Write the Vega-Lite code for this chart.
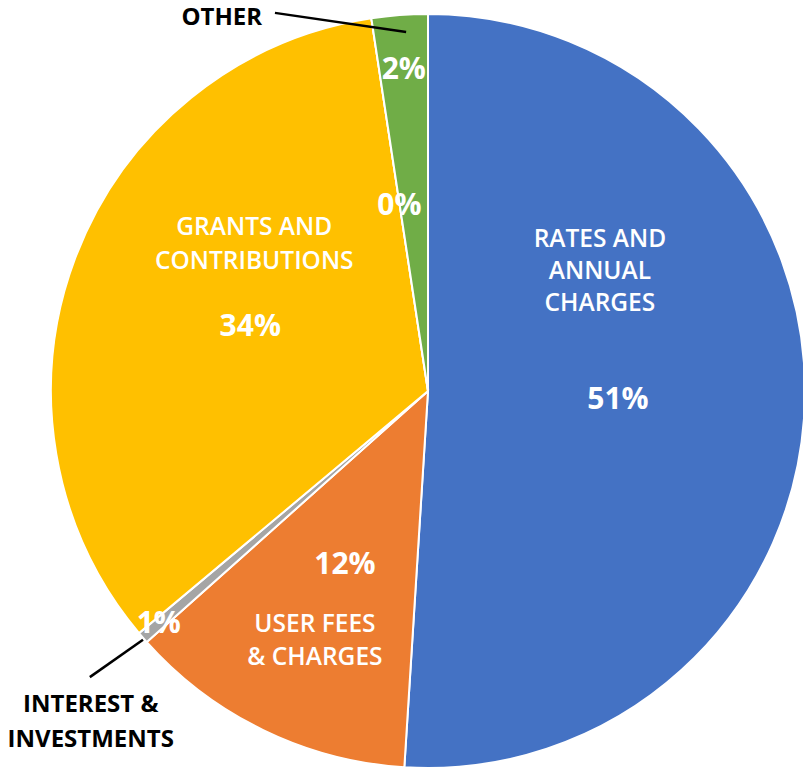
{
  "$schema": "https://vega.github.io/schema/vega-lite/v6.json",
  "width": 750,
  "height": 754,
  "autosize": {"type": "none"},
  "padding": {"left": 53, "top": 14, "right": 0, "bottom": 0},
  "background": "white",
  "view": {"stroke": null},
  "config": {"text": {"font": "Open Sans"}},
  "data": {
    "values": [
      {"idx": 1, "category": "Rates and annual charges", "name": "RATES AND\nANNUAL\nCHARGES", "share": 51.0, "pct": "51%"},
      {"idx": 2, "category": "User fees & charges", "name": "USER FEES\n& CHARGES", "share": 12.4, "pct": "12%"},
      {"idx": 3, "category": "Interest & investments", "name": "INTEREST &\nINVESTMENTS", "share": 0.5, "pct": "1%"},
      {"idx": 4, "category": "Grants and contributions", "name": "GRANTS AND\nCONTRIBUTIONS", "share": 33.7, "pct": "34%"},
      {"idx": 5, "category": "Net gains from disposal of assets", "name": "", "share": 0, "pct": "0%"},
      {"idx": 6, "category": "Other", "name": "OTHER", "share": 2.4, "pct": "2%"}
    ]
  },
  "layer": [
    {
      "mark": {"type": "arc", "outerRadius": 377, "stroke": "white", "strokeWidth": 2},
      "encoding": {
        "theta": {"field": "share", "type": "quantitative", "stack": true},
        "order": {"field": "idx", "type": "quantitative"},
        "color": {
          "field": "category",
          "type": "nominal",
          "legend": null,
          "scale": {
            "domain": ["Rates and annual charges", "User fees & charges", "Interest & investments", "Grants and contributions", "Net gains from disposal of assets", "Other"],
            "range": ["#4472C4", "#ED7D31", "#A5A5A5", "#FFC000", "#5B9BD5", "#70AD47"]
          }
        }
      }
    },
    {
      "mark": {"type": "text", "radius": 190, "dy": 3, "fontSize": 30, "fontWeight": "bold", "fill": "white", "align": "center", "baseline": "middle"},
      "encoding": {
        "theta": {"field": "share", "type": "quantitative", "stack": true},
        "order": {"field": "idx", "type": "quantitative"},
        "detail": {"field": "category", "type": "nominal"},
        "text": {"condition": {"test": "datum.idx == 3 || datum.idx == 6", "value": ""}, "field": "pct", "type": "nominal"}
      }
    },
    {
      "mark": {"type": "text", "radius": 322, "fontSize": 30, "fontWeight": "bold", "fill": "white", "align": "center", "baseline": "middle"},
      "encoding": {
        "theta": {"field": "share", "type": "quantitative", "stack": true},
        "order": {"field": "idx", "type": "quantitative"},
        "detail": {"field": "category", "type": "nominal"},
        "text": {"condition": {"test": "datum.idx == 6", "field": "pct", "type": "nominal"}, "value": ""}
      }
    },
    {
      "mark": {"type": "text", "radius": 356, "fontSize": 30, "fontWeight": "bold", "fill": "white", "align": "center", "baseline": "middle"},
      "encoding": {
        "theta": {"field": "share", "type": "quantitative", "stack": true},
        "order": {"field": "idx", "type": "quantitative"},
        "detail": {"field": "category", "type": "nominal"},
        "text": {"condition": {"test": "datum.idx == 3", "field": "pct", "type": "nominal"}, "value": ""}
      }
    },
    {
      "mark": {"type": "text", "radius": 190, "dx": -18, "dy": -157, "fontSize": 24.5, "fontWeight": 600, "fill": "white", "align": "center", "baseline": "middle", "lineBreak": "\n", "lineHeight": 32},
      "encoding": {
        "theta": {"field": "share", "type": "quantitative", "stack": true},
        "order": {"field": "idx", "type": "quantitative"},
        "detail": {"field": "category", "type": "nominal"},
        "text": {"condition": {"test": "datum.idx == 1", "field": "name", "type": "nominal"}, "value": ""}
      }
    },
    {
      "mark": {"type": "text", "radius": 190, "dx": -30, "dy": 63, "fontSize": 24.5, "fontWeight": 600, "fill": "white", "align": "center", "baseline": "middle", "lineBreak": "\n", "lineHeight": 33},
      "encoding": {
        "theta": {"field": "share", "type": "quantitative", "stack": true},
        "order": {"field": "idx", "type": "quantitative"},
        "detail": {"field": "category", "type": "nominal"},
        "text": {"condition": {"test": "datum.idx == 2", "field": "name", "type": "nominal"}, "value": ""}
      }
    },
    {
      "mark": {"type": "text", "radius": 190, "dx": 4, "dy": -96, "fontSize": 24.5, "fontWeight": 600, "fill": "white", "align": "center", "baseline": "middle", "lineBreak": "\n", "lineHeight": 34},
      "encoding": {
        "theta": {"field": "share", "type": "quantitative", "stack": true},
        "order": {"field": "idx", "type": "quantitative"},
        "detail": {"field": "category", "type": "nominal"},
        "text": {"condition": {"test": "datum.idx == 4", "field": "name", "type": "nominal"}, "value": ""}
      }
    },
    {
      "mark": {"type": "text", "radius": 322, "dx": -182, "dy": -52, "fontSize": 24, "fontWeight": "bold", "fill": "black", "align": "center", "baseline": "middle"},
      "encoding": {
        "theta": {"field": "share", "type": "quantitative", "stack": true},
        "order": {"field": "idx", "type": "quantitative"},
        "detail": {"field": "category", "type": "nominal"},
        "text": {"condition": {"test": "datum.idx == 6", "field": "name", "type": "nominal"}, "value": ""}
      }
    },
    {
      "mark": {"type": "text", "radius": 356, "dx": -68, "dy": 81, "fontSize": 24, "fontWeight": "bold", "fill": "black", "align": "center", "baseline": "middle", "lineBreak": "\n", "lineHeight": 35},
      "encoding": {
        "theta": {"field": "share", "type": "quantitative", "stack": true},
        "order": {"field": "idx", "type": "quantitative"},
        "detail": {"field": "category", "type": "nominal"},
        "text": {"condition": {"test": "datum.idx == 3", "field": "name", "type": "nominal"}, "value": ""}
      }
    },
    {
      "transform": [{"filter": "datum.idx == 6"}],
      "mark": {"type": "rule", "stroke": "black", "strokeWidth": 2.5},
      "encoding": {
        "x": {"datum": -0.406, "type": "quantitative", "scale": {"domain": [-0.99469, 0.99469]}, "axis": null},
        "y": {"datum": 1.003, "type": "quantitative", "scale": {"domain": [-1, 1]}, "axis": null},
        "x2": {"datum": -0.058},
        "y2": {"datum": 0.952}
      }
    },
    {
      "transform": [{"filter": "datum.idx == 3"}],
      "mark": {"type": "rule", "stroke": "black", "strokeWidth": 2.5},
      "encoding": {
        "x": {"datum": -0.897, "type": "quantitative", "scale": {"domain": [-0.99469, 0.99469]}, "axis": null},
        "y": {"datum": -0.759, "type": "quantitative", "scale": {"domain": [-1, 1]}, "axis": null},
        "x2": {"datum": -0.756},
        "y2": {"datum": -0.66}
      }
    }
  ]
}
